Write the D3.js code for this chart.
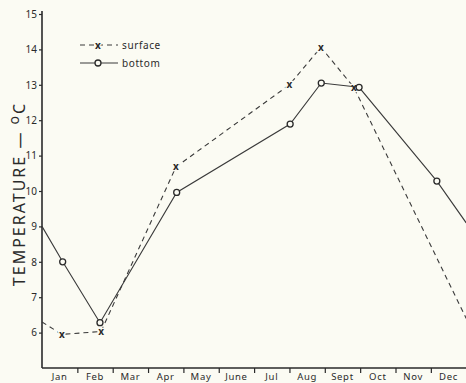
<!DOCTYPE html>
<html>
<head>
<meta charset="utf-8">
<script src="https://cdn.jsdelivr.net/npm/d3@7/dist/d3.min.js"></script>
<style>
  html, body { margin: 0; padding: 0; background: #fbfbf3; }
  svg { display: block; }
  text { font-family: "Noto Sans", "DejaVu Sans", sans-serif; fill: #2a2a2a; }
</style>
</head>
<body>
<svg id="chart" width="466" height="383"></svg>
<script>
// Month names shown along the bottom axis
const months = ["Jan", "Feb", "Mar", "Apr", "May", "June", "Jul", "Aug", "Sept", "Oct", "Nov", "Dec"];

// Temperature ticks (°C)
const tempTicks = [6, 7, 8, 9, 10, 11, 12, 13, 14, 15];

// Sampling dates as fractional month position (0 = start of Jan, 12 = end of Dec)
const surfaceDates = [0, 0.56, 1.67, 3.79, 7.0, 7.89, 8.82, 12.0];
const surfaceTemp  = [6.3, 5.95, 6.03, 10.68, 13.0, 14.06, 12.93, 6.4];

const bottomDates = [0, 0.585, 1.64, 3.81, 7.02, 7.9, 8.97, 11.17, 12.0];
const bottomTemp  = [9.0, 8.0, 6.28, 9.96, 11.89, 13.05, 12.93, 10.28, 9.1];

// Which points carry a marker (the ends at the frame edges do not)
const surfaceMarked = [false, true, true, true, true, true, true, false];
const bottomMarked  = [false, true, true, true, true, true, true, true, false];

const bg = "#fbfbf3";
const ink = "#2a2a2a";

const svg = d3.select("#chart");

const x = d3.scaleLinear().domain([0, 12]).range([42, 466.2]);
const y = d3.scaleLinear().domain([5, 15]).range([368, 14]);

const surface = surfaceDates.map((d, i) => ({ m: d, t: surfaceTemp[i], mark: surfaceMarked[i] }));
const bottom  = bottomDates.map((d, i) => ({ m: d, t: bottomTemp[i], mark: bottomMarked[i] }));

const line = d3.line().x(d => x(d.m)).y(d => y(d.t));

// Y axis
const yAxis = svg.append("g")
  .attr("transform", `translate(${x(0)},0)`)
  .call(d3.axisLeft(y).tickValues(tempTicks).tickSize(3).tickPadding(2).tickFormat(d3.format("d")));
yAxis.select(".domain").remove();
yAxis.selectAll(".tick line").attr("stroke", ink).attr("stroke-width", 1.2);
yAxis.selectAll(".tick text")
  .style("font-size", "10px")
  .attr("fill", ink);

svg.append("line")
  .attr("x1", x(0)).attr("x2", x(0))
  .attr("y1", y(15) - 3).attr("y2", y(5))
  .attr("stroke", ink).attr("stroke-width", 1.6);

// X axis: ticks mark month boundaries, labels sit between them
const xAxis = svg.append("g")
  .attr("transform", `translate(0,${y(5)})`)
  .call(d3.axisBottom(x).tickValues(d3.range(1, 12)).tickSize(5).tickFormat(""));
xAxis.select(".domain").remove();
xAxis.selectAll(".tick line").attr("stroke", ink).attr("stroke-width", 1.2);

svg.append("line")
  .attr("x1", x(0)).attr("x2", x(12))
  .attr("y1", y(5)).attr("y2", y(5))
  .attr("stroke", ink).attr("stroke-width", 1.6);

svg.append("g").selectAll("text")
  .data(months)
  .join("text")
  .attr("x", (d, i) => x(i + 0.5))
  .attr("y", 380)
  .attr("text-anchor", "middle")
  .style("font-size", "9.5px")
  .style("letter-spacing", "0.7px")
  .text(d => d);

// Y axis title
svg.append("text")
  .attr("transform", `translate(24.5,${(96 + 292) / 2}) rotate(-90)`)
  .attr("text-anchor", "middle")
  .style("font-size", "16px")
  .style("letter-spacing", "2px")
  .text("TEMPERATURE — ")
  .append("tspan")
  .attr("dy", "-6")
  .style("font-size", "14px")
  .text("o")
  .append("tspan")
  .attr("dy", "6")
  .style("font-size", "16px")
  .text("C");

// Surface series: dashed line with x markers
svg.append("path")
  .datum(surface)
  .attr("fill", "none")
  .attr("stroke", "#3a3a3a")
  .attr("stroke-width", 1.1)
  .attr("stroke-dasharray", "5,4")
  .attr("d", line);

svg.append("g").selectAll("text")
  .data(surface.filter(d => d.mark))
  .join("text")
  .attr("x", d => x(d.m))
  .attr("y", d => y(d.t) + 3.5)
  .attr("text-anchor", "middle")
  .style("font-size", "10px")
  .style("font-weight", "bold")
  .attr("stroke", bg)
  .attr("stroke-width", 2.5)
  .attr("paint-order", "stroke")
  .text("x");

// Bottom series: solid line with open circles
svg.append("path")
  .datum(bottom)
  .attr("fill", "none")
  .attr("stroke", "#3a3a3a")
  .attr("stroke-width", 1.1)
  .attr("d", line);

svg.append("g").selectAll("circle")
  .data(bottom.filter(d => d.mark))
  .join("circle")
  .attr("cx", d => x(d.m))
  .attr("cy", d => y(d.t))
  .attr("r", 3)
  .attr("fill", bg)
  .attr("stroke", ink)
  .attr("stroke-width", 1.3);

// Legend
const legend = svg.append("g");
legend.append("line")
  .attr("x1", 80).attr("x2", 118).attr("y1", 45).attr("y2", 45)
  .attr("stroke", "#3a3a3a").attr("stroke-width", 1.1)
  .attr("stroke-dasharray", "5,4");
legend.append("text")
  .attr("x", 98).attr("y", 48.5)
  .attr("text-anchor", "middle")
  .style("font-size", "10px").style("font-weight", "bold")
  .attr("stroke", bg).attr("stroke-width", 2.5).attr("paint-order", "stroke")
  .text("x");
legend.append("text")
  .attr("x", 122).attr("y", 48.5)
  .style("font-size", "10px").style("letter-spacing", "0.6px")
  .text("surface");

legend.append("line")
  .attr("x1", 80).attr("x2", 118).attr("y1", 63).attr("y2", 63)
  .attr("stroke", "#3a3a3a").attr("stroke-width", 1.1);
legend.append("circle")
  .attr("cx", 98).attr("cy", 63).attr("r", 3)
  .attr("fill", bg).attr("stroke", ink).attr("stroke-width", 1.3);
legend.append("text")
  .attr("x", 122).attr("y", 66.5)
  .style("font-size", "10px").style("letter-spacing", "0.6px")
  .text("bottom");
</script>
</body>
</html>
